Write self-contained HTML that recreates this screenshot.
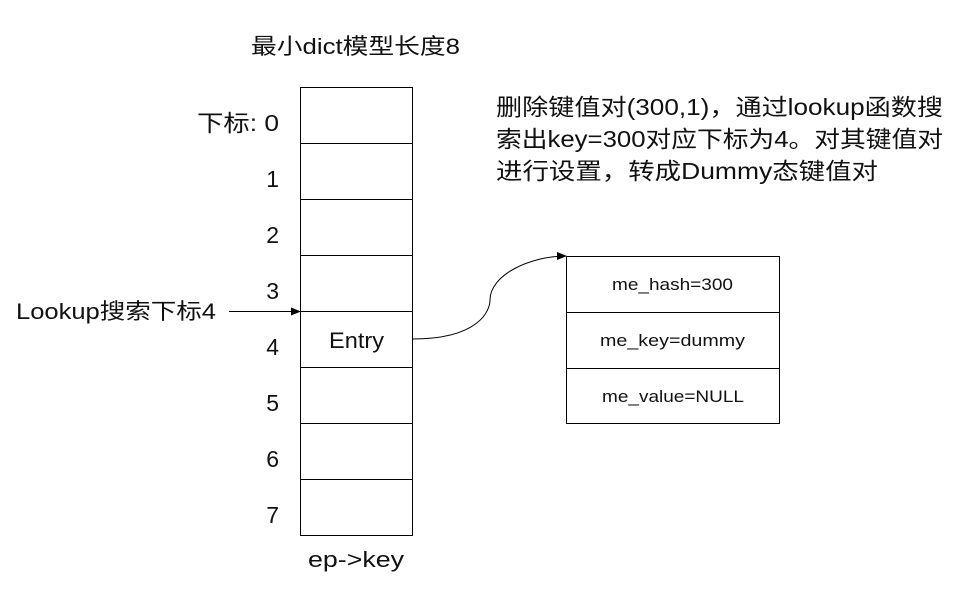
<!DOCTYPE html>
<html><head><meta charset="utf-8"><style>
body{margin:0;background:#fff;}
svg{display:block;}
text{font-family:"Liberation Sans","Noto Sans CJK SC",sans-serif;fill:#111;}
</style></head><body>
<svg width="962" height="591" viewBox="0 0 962 591" xmlns="http://www.w3.org/2000/svg">
<defs><marker id="a" markerWidth="10" markerHeight="8" refX="9" refY="4" orient="auto" markerUnits="userSpaceOnUse"><path d="M0,0 L10,4 L0,8 z" fill="#000"/></marker></defs>
<text x="251" y="54" font-size="22" textLength="209" lengthAdjust="spacingAndGlyphs">最小dict模型长度8</text>
<g fill="none" stroke="#000" stroke-width="1">
<rect x="300.5" y="87.5" width="112" height="448"/>
<line x1="300" y1="143.5" x2="412" y2="143.5"/>
<line x1="300" y1="199.5" x2="412" y2="199.5"/>
<line x1="300" y1="255.5" x2="412" y2="255.5"/>
<line x1="300" y1="311.5" x2="412" y2="311.5"/>
<line x1="300" y1="367.5" x2="412" y2="367.5"/>
<line x1="300" y1="423.5" x2="412" y2="423.5"/>
<line x1="300" y1="479.5" x2="412" y2="479.5"/>
<rect x="566.5" y="256.5" width="213" height="167"/>
<line x1="566" y1="312.5" x2="780" y2="312.5"/>
<line x1="566" y1="368.5" x2="780" y2="368.5"/>
<line x1="229" y1="311.5" x2="300" y2="311.5" marker-end="url(#a)"/>
<path d="M412,339 C480,339 490,310 490,300 C490,275 530,256 566,256" marker-end="url(#a)"/>
</g>
<g font-size="23" text-anchor="end">
<text x="279" y="131" textLength="82" lengthAdjust="spacingAndGlyphs">下标: 0</text>
<text x="279" y="187">1</text>
<text x="279" y="243">2</text>
<text x="279" y="299">3</text>
<text x="279" y="355">4</text>
<text x="279" y="411">5</text>
<text x="279" y="467">6</text>
<text x="279" y="523">7</text>
</g>
<text x="16" y="319" font-size="22" textLength="200" lengthAdjust="spacingAndGlyphs">Lookup搜索下标4</text>
<text x="329" y="348" font-size="22" textLength="55" lengthAdjust="spacingAndGlyphs">Entry</text>
<text x="308" y="567" font-size="22" textLength="96" lengthAdjust="spacingAndGlyphs">ep-&gt;key</text>
<g font-size="17">
<text x="612" y="290" textLength="121" lengthAdjust="spacingAndGlyphs">me_hash=300</text>
<text x="600" y="346" textLength="145" lengthAdjust="spacingAndGlyphs">me_key=dummy</text>
<text x="602" y="402" textLength="142" lengthAdjust="spacingAndGlyphs">me_value=NULL</text>
</g>
<g font-size="23">
<text x="496" y="115" textLength="447" lengthAdjust="spacingAndGlyphs">删除键值对(300,1)，通过lookup函数搜</text>
<text x="496" y="147" textLength="447" lengthAdjust="spacingAndGlyphs">索出key=300对应下标为4。对其键值对</text>
<text x="496" y="179" textLength="382" lengthAdjust="spacingAndGlyphs">进行设置，转成Dummy态键值对</text>
</g>
</svg>
</body></html>
